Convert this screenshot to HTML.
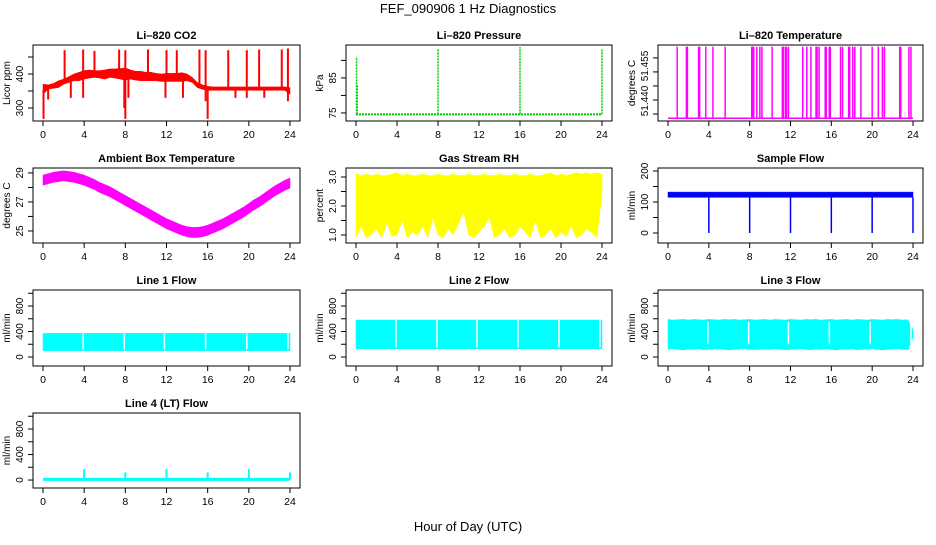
<!DOCTYPE html>
<html><head><meta charset="utf-8"><style>
body{margin:0;background:#fff}
svg text{font-family:"Liberation Sans",sans-serif;fill:#000}
.t{font-weight:bold;font-size:11px}
.tk{font-size:10.5px}
.tky{font-size:10px}
</style></head><body>
<svg id="c" width="936" height="540" viewBox="0 0 936 540" xmlns="http://www.w3.org/2000/svg">
<text x="468" y="13" text-anchor="middle" font-size="13">FEF_090906  1 Hz Diagnostics</text>
<text x="468" y="531" text-anchor="middle" font-size="13">Hour of Day (UTC)</text>
</svg>
<script>
const xTicks=[0,4,8,12,16,20,24];
const halfHours=[];for(let i=0;i<=48;i++)halfHours.push(i/2);
const co2Low=[340,355,358,360,370,375,380,380,385,388,390,388,385,390,388,385,382,385,382,380,380,380,380,378,378,378,378,378,380,375,360,355,352,352,352,352,352,352,352,352,352,352,352,352,352,352,352,352,340];
const co2High=[370,368,372,380,385,392,400,405,410,412,410,410,412,415,415,416,418,412,408,408,405,405,402,400,402,402,402,404,400,390,375,368,364,362,362,362,362,362,362,362,362,362,362,362,362,362,362,362,360];
const co2SpikeHours=[2.1,3.9,5.0,7.4,8.0,10.2,12.0,13.0,15.2,15.8,18.0,19.8,21.0,23.2,23.8,0.05,8.0,16.0,0.5,2.7,3.9,7.9,8.3,11.9,13.6,15.8,18.7,19.8,21.5,23.8];
const co2SpikeValues=[470,472,468,472,470,472,470,470,472,470,470,470,472,472,475,268,268,268,325,330,330,300,330,330,330,320,330,330,330,320];
const presBase=74.6;
const presSpikeHours=[0.05,0.12,8,16,24];
const presSpikeValues=[91,83,93.3,93.8,93.1];
const tempBase=51.4335;
const tempHigh=51.459;
const tempSpikeHours=[0.9,1.8,1.9,3.0,3.1,3.7,4.4,5.6,8.2,8.3,8.4,8.7,9.0,9.2,10.2,11.2,11.3,11.5,11.6,11.8,13.2,13.6,14.0,14.5,14.6,14.8,15.4,15.5,15.8,15.9,16.9,17.1,17.7,17.8,18.1,18.3,18.9,20.0,20.6,21.0,21.2,22.7,22.8,23.6,23.8];
const ambCenter=[28.5,28.6,28.7,28.75,28.8,28.75,28.7,28.6,28.5,28.35,28.2,28.0,27.85,27.7,27.5,27.3,27.1,26.9,26.7,26.5,26.3,26.1,25.9,25.7,25.5,25.35,25.2,25.05,24.95,24.9,24.9,24.95,25.05,25.2,25.35,25.5,25.7,25.9,26.1,26.3,26.55,26.8,27.0,27.25,27.5,27.75,27.95,28.15,28.3];
const ambHalfWidth=0.35;
const rhHigh=[3.1,3.05,3.1,3.05,3.1,3.05,3.05,3.1,3.15,3.05,3.1,3.05,3.05,3.1,3.05,3.05,3.1,3.05,3.05,3.1,3.05,3.05,3.1,3.05,3.05,3.1,3.05,3.05,3.1,3.05,3.05,3.1,3.05,3.05,3.1,3.05,3.05,3.1,3.15,3.05,3.1,3.05,3.1,3.15,3.1,3.15,3.1,3.15,3.1];
const rhLow=[0.9,1.3,0.9,1.0,1.2,0.9,1.4,0.95,1.0,1.5,0.9,1.1,1.0,1.3,0.9,1.6,1.0,0.9,1.2,1.0,1.4,1.8,1.0,0.9,1.1,1.3,1.6,0.9,1.0,1.2,0.9,1.0,1.3,1.1,0.9,1.5,0.9,1.0,1.2,0.9,1.1,0.95,1.3,0.9,1.0,1.2,1.1,0.9,2.4];
const sampleLow=115, sampleHigh=132;
const dipHours=[4,8,12,16,20,24];
const dipValues=[0,0,0,0,0,0];
const gapHours=[3.9,7.9,11.8,15.8,19.8,23.8];
const line1Low=100, line1High=370;
const line2Low=130, line2High=580;
const line3Low=[120,130,120,110,125,120,130,115,120,125,130,120,110,120,125,130,120,115,120,125,120,130,120,115,120,125,130,120,115,125,120,130,120,110,125,120,130,115,120,125,130,120,110,120,125,130,120,115,300];
const line3High=[590,580,585,590,580,590,585,580,590,585,580,590,585,590,580,585,590,580,585,590,580,590,585,580,590,585,580,590,585,590,580,585,590,580,585,590,580,590,585,580,590,585,580,590,585,590,580,585,430];
const line4Base=10;
const line4SpikeHours=[4,8,12,16,20,24];
const line4SpikeValues=[170,120,170,120,170,120];

const svg=document.getElementById('c');
const NS='http://www.w3.org/2000/svg';
function mk(tag,attrs,parent){const e=document.createElementNS(NS,tag);for(const k in attrs)e.setAttribute(k,attrs[k]);(parent||svg).appendChild(e);return e;}
const cols=[[33,300],[346,612],[658,923]];
const rows=[[45,121],[168,243],[290,366],[413,488]];
function panel(name,title,ci,ri,ymin,ymax,yticks,ylabels,ytitle){
  const [x0,x1]=cols[ci],[y0,y1]=rows[ri];
  const g=mk('g',{});
  
  
  const xs=h=>x0+10+(h/24)*(x1-x0-20);
  const ys=v=>y1-(v-ymin)/(ymax-ymin)*(y1-y0);
  const t=mk('text',{x:(x0+x1)/2,y:y0-6,'text-anchor':'middle',class:'t'},g);t.textContent=title;
  
  
  const plot=mk('g',{},g);
  
  
  mk('rect',{x:x0,y:y0,width:x1-x0,height:y1-y0,fill:'none',stroke:'#000','stroke-width':1},g);
  const ax=mk('g',{},g);
  
  
  mk('line',{x1:xs(0),x2:xs(24),y1:y1,y2:y1,stroke:'#000'},ax);
  xTicks.forEach(h=>{mk('line',{x1:xs(h),x2:xs(h),y1:y1,y2:y1+5,stroke:'#000'},ax);
    const l=mk('text',{x:xs(h),y:y1+17,'text-anchor':'middle',class:'tk'},ax);l.textContent=h;});
  const ay=mk('g',{},g);
  
  
  mk('line',{x1:x0,x2:x0,y1:ys(yticks[0]),y2:ys(yticks[yticks.length-1]),stroke:'#000'},ay);
  yticks.forEach(v=>mk('line',{x1:x0-5,x2:x0,y1:ys(v),y2:ys(v),stroke:'#000'},ay));
  ylabels.forEach(([v,s,py])=>{const yy=py!==undefined?py:ys(v);const l=mk('text',{x:x0-10,y:yy,'text-anchor':'middle',class:'tky',transform:`rotate(-90 ${x0-10} ${yy})`},ay);l.textContent=s;});
  const yt=mk('text',{x:x0-23,y:(y0+y1)/2,'text-anchor':'middle','font-size':'10',transform:`rotate(-90 ${x0-23} ${(y0+y1)/2})`},ay);yt.textContent=ytitle;
  return {plot,xs,ys,x0,x1,y0,y1};
}
function band(p,hs,lo,hi,color){
  let d='M'+hs.map((h,i)=>p.xs(h)+','+p.ys(hi[i])).join('L');
  for(let i=hs.length-1;i>=0;i--)d+='L'+p.xs(hs[i])+','+p.ys(lo[i]);
  mk('path',{d:d+'Z',fill:color,stroke:color,'stroke-width':0.5},p.plot);
}
function vline(p,h,a,b,color,w,dash){const e=mk('line',{x1:p.xs(h),x2:p.xs(h),y1:p.ys(a),y2:p.ys(b),stroke:color,'stroke-width':w||1.5},p.plot);if(dash)e.setAttribute('stroke-dasharray',dash);return e;}
function interp(arr,h){const i=Math.min(47,Math.floor(h*2));const f=h*2-i;return arr[i]*(1-f)+arr[i+1]*f;}
const cst=v=>halfHours.map(()=>v);

// CO2
let p=panel('co2','Li\u2013820 CO2',0,0,261.8,485.3,[300,350,400,450],[[300,'300'],[400,'400']],'Licor ppm');
band(p,halfHours,co2Low,co2High,'#ff0000');
co2SpikeHours.forEach((h,i)=>vline(p,h,(interp(co2Low,h)+interp(co2High,h))/2,co2SpikeValues[i],'#ff0000',2));
// Pressure
p=panel('pressure','Li\u2013820 Pressure',1,0,72.7,94.4,[75,80,85,90],[[75,'75'],[85,'85']],'kPa');
mk('line',{x1:p.xs(0),x2:p.xs(24),y1:p.ys(presBase),y2:p.ys(presBase),stroke:'#00cc00','stroke-width':2,'stroke-dasharray':'2 1'},p.plot);
presSpikeHours.forEach((h,i)=>vline(p,h,presBase,presSpikeValues[i],'#00cc00',1.5,'2 1'));
// Li temp
p=panel('li-temp','Li\u2013820 Temperature',2,0,51.4325,51.4596,[51.435,51.44,51.445,51.45,51.455],[[0,'51.455',66],[0,'51.440',101]],'degrees C');
mk('line',{x1:p.xs(0),x2:p.xs(24),y1:p.ys(tempBase),y2:p.ys(tempBase),stroke:'#ff00ff','stroke-width':1.5},p.plot);
tempSpikeHours.forEach(h=>vline(p,h,tempBase,tempHigh,'#ff00ff',1.5));
// Ambient
p=panel('ambient-temp','Ambient Box Temperature',0,1,24.17,29.34,[25,26,27,28,29],[[25,'25'],[27,'27'],[29,'29']],'degrees C');
band(p,halfHours,ambCenter.map(v=>v-ambHalfWidth),ambCenter.map(v=>v+ambHalfWidth),'#ff00ff');
// RH
p=panel('rh','Gas Stream RH',1,1,0.724,3.31,[1,1.5,2,2.5,3],[[1,'1.0'],[2,'2.0'],[3,'3.0']],'percent');
band(p,halfHours,rhLow,rhHigh,'#ffff00');
// Sample flow
p=panel('sample-flow','Sample Flow',2,1,-32.3,209.7,[0,50,100,150,200],[[0,'0'],[100,'100'],[200,'200']],'ml/min');
band(p,halfHours,cst(sampleLow),cst(sampleHigh),'#0000ff');
dipHours.forEach((h,i)=>vline(p,h,sampleLow,dipValues[i],'#0000ff',1.5));
// Line flows
const flowTicks=[0,200,400,600,800,1000],flowLabels=[[0,'0'],[400,'400'],[800,'800']];
p=panel('line1-flow','Line 1 Flow',0,2,-141,1051,flowTicks,flowLabels,'ml/min');
band(p,halfHours,cst(line1Low),cst(line1High),'#00ffff');
gapHours.forEach(h=>vline(p,h,line1Low+20,line1High,'#fff',1.5));
p=panel('line2-flow','Line 2 Flow',1,2,-141,1051,flowTicks,flowLabels,'ml/min');
band(p,halfHours,cst(line2Low),cst(line2High),'#00ffff');
gapHours.forEach(h=>vline(p,h,line2Low+20,line2High,'#fff',1.5));
p=panel('line3-flow','Line 3 Flow',2,2,-141,1051,flowTicks,flowLabels,'ml/min');
band(p,halfHours,line3Low,line3High,'#00ffff');
gapHours.forEach(h=>vline(p,h,200,550,'#fff',1.5));
p=panel('line4-flow','Line 4 (LT) Flow',0,3,-125,1051,flowTicks,flowLabels,'ml/min');
mk('line',{x1:p.xs(0),x2:p.xs(24),y1:p.ys(line4Base),y2:p.ys(line4Base),stroke:'#00ffff','stroke-width':3},p.plot);
line4SpikeHours.forEach((h,i)=>vline(p,h,line4Base,line4SpikeValues[i],'#00ffff',2));
</script>
</body></html>
